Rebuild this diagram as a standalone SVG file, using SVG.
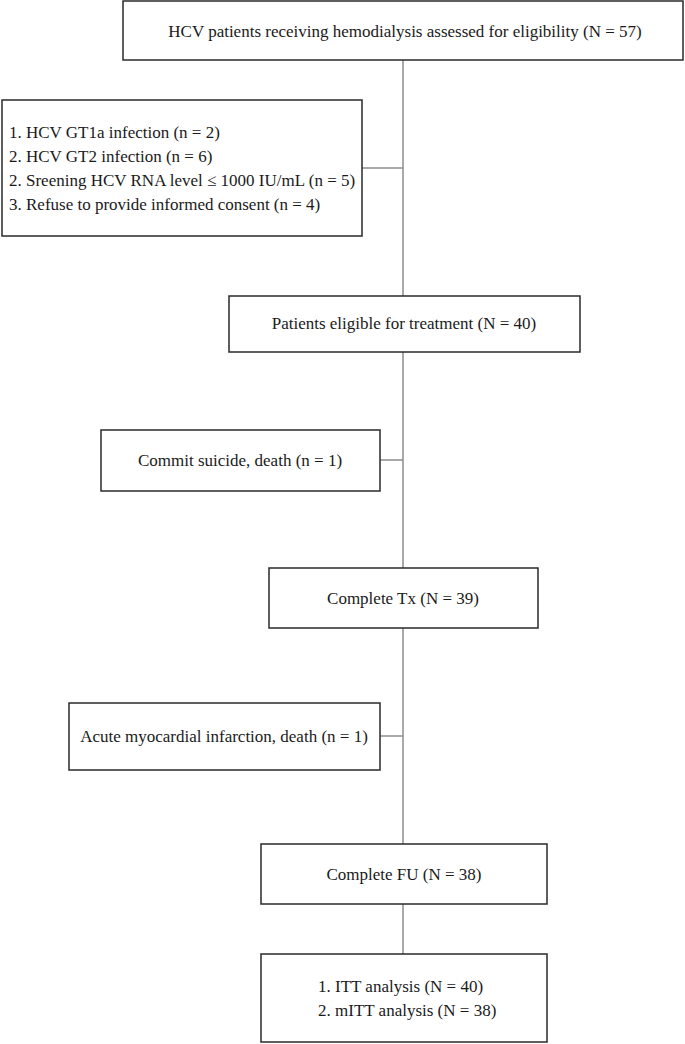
<svg xmlns="http://www.w3.org/2000/svg" width="685" height="1044" viewBox="0 0 685 1044">
<style>
.box{fill:#fff;stroke:#2a2a2a;stroke-width:1.5}
.t{font-family:"Liberation Serif","Times New Roman",serif;font-size:17px;fill:#1a1a1a}
.c{text-anchor:middle}
.ln{stroke:#8c8c8c;stroke-width:1.5;fill:none}
</style>
<rect width="685" height="1044" fill="#fff"/>
<g id="connectors">
<line class="ln" x1="403" y1="60" x2="403" y2="296"/>
<line class="ln" x1="362" y1="168" x2="403" y2="168"/>
<line class="ln" x1="403" y1="352" x2="403" y2="568"/>
<line class="ln" x1="380" y1="460" x2="403" y2="460"/>
<line class="ln" x1="403" y1="628" x2="403" y2="844"/>
<line class="ln" x1="380" y1="736" x2="403" y2="736"/>
<line class="ln" x1="403" y1="904" x2="403" y2="954"/>
</g>
<g id="n1">
<rect class="box" x="123" y="1" width="560" height="59"/>
<text class="t c" x="405" y="37">HCV patients receiving hemodialysis assessed for eligibility (N = 57)</text>
</g>
<g id="n2">
<rect class="box" x="2" y="100" width="360" height="136"/>
<text class="t" x="9" y="138">1. HCV GT1a infection (n = 2)</text>
<text class="t" x="9" y="162">2. HCV GT2 infection (n = 6)</text>
<text class="t" x="9" y="186">2. Sreening HCV RNA level ≤ 1000 IU/mL (n = 5)</text>
<text class="t" x="9" y="210">3. Refuse to provide informed consent (n = 4)</text>
</g>
<g id="n3">
<rect class="box" x="229" y="296" width="351" height="56"/>
<text class="t c" x="404" y="329">Patients eligible for treatment (N = 40)</text>
</g>
<g id="n4">
<rect class="box" x="101" y="430" width="279" height="61"/>
<text class="t c" x="240" y="466">Commit suicide, death (n = 1)</text>
</g>
<g id="n5">
<rect class="box" x="269" y="568" width="269" height="60"/>
<text class="t c" x="403" y="604">Complete Tx (N = 39)</text>
</g>
<g id="n6">
<rect class="box" x="69" y="703" width="311" height="67"/>
<text class="t c" x="224" y="742">Acute myocardial infarction, death (n = 1)</text>
</g>
<g id="n7">
<rect class="box" x="261" y="844" width="286" height="60"/>
<text class="t c" x="404" y="880">Complete FU (N = 38)</text>
</g>
<g id="n8">
<rect class="box" x="261" y="954" width="286" height="88"/>
<text class="t" x="318" y="992">1. ITT analysis (N = 40)</text>
<text class="t" x="318" y="1016">2. mITT analysis (N = 38)</text>
</g>
</svg>
